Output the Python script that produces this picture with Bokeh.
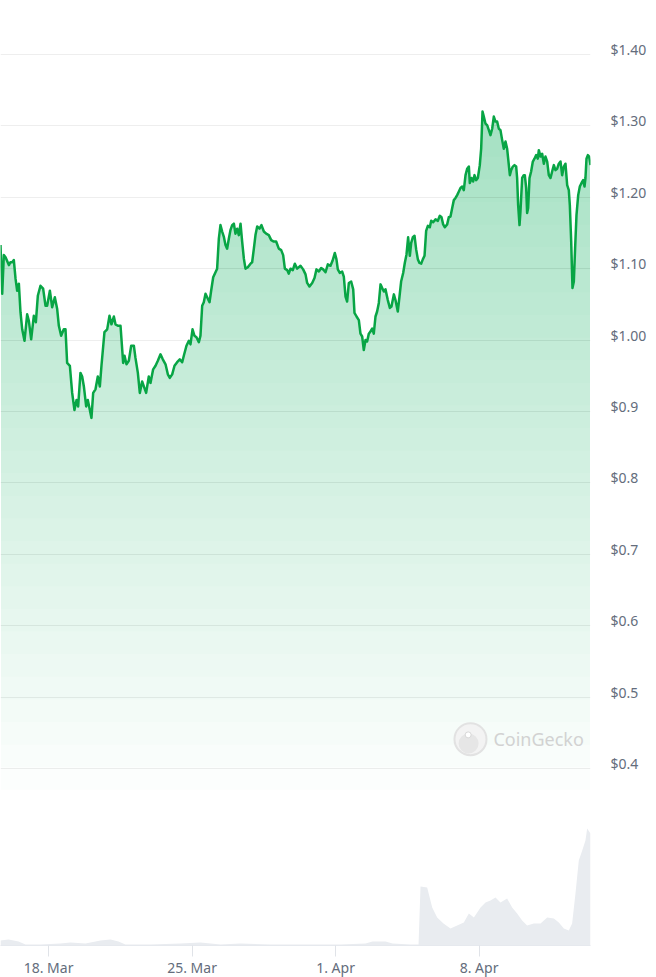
import numpy as np
import pandas as pd
from bokeh.plotting import figure
from bokeh.models import (Range1d, LinearAxis, FixedTicker, Grid, Label,
                          CustomJSTickFormatter, ColumnDataSource)
from bokeh.embed import file_html
from bokeh.resources import INLINE

# ---------------- data ----------------
START = "2024-03-15 15:45"          # left edge of the chart
END_HOURS = 690.7                    # right edge, hours after START

# price: hours after START, USD
price_hours = [
    0.0, 2.0, 3.9, 5.9, 9.8, 11.7, 13.7, 15.6, 17.6, 19.5,
    21.5, 23.4, 25.4, 28.1, 31.2, 33.2, 35.9, 39.0, 41.4, 43.7,
    46.8, 49.9, 52.7, 54.6, 57.8, 60.5, 63.6, 66.3, 68.3, 71.0,
    74.1, 76.1, 78.0, 81.2, 83.9, 86.6, 89.0, 90.9, 93.6, 95.6,
    97.6, 100.3, 102.2, 104.6, 106.5, 108.5, 111.2, 113.9, 116.3, 118.2,
    121.7, 124.9, 127.6, 129.9, 132.7, 134.6, 137.4, 140.5, 143.6, 145.2,
    147.5, 150.2, 153.0, 156.1, 158.0, 160.8, 163.1, 165.8, 167.8, 170.5,
    173.6,
    175.6, 178.7, 181.5, 184.2, 187.3, 190.0, 193.2, 195.9, 198.2, 201.0,
    203.7, 206.8, 209.9, 212.7, 214.6, 217.7, 220.5, 222.4, 224.8, 227.1,
    229.4, 232.2, 234.1, 236.1, 238.0, 240.0, 241.9, 244.7, 246.6, 249.0,
    251.7, 253.6, 255.6, 257.5, 259.5, 261.4, 263.4, 265.3, 267.3, 269.2,
    271.2, 273.2, 275.1, 277.1, 279.0, 281.0, 282.9, 284.9, 286.8, 289.5,
    292.7, 294.6, 296.6, 298.5, 300.5, 303.2, 305.5, 308.3, 311.0, 314.1,
    316.9, 320.0, 322.7, 325.8, 328.6, 330.9, 332.9, 335.6, 337.5, 339.5,
    342.2, 344.6, 347.3,
    351.2, 354.3, 357.1, 359.0, 361.7, 364.9, 367.6, 369.9, 372.7, 375.4,
    377.7, 380.5, 383.2, 386.3, 388.7, 391.4, 393.3, 394.9, 397.2, 400.0,
    401.9, 403.9, 405.8, 407.8, 410.5, 412.9, 414.4, 416.8, 419.5, 421.4,
    423.4, 425.3, 427.3, 429.2, 431.2, 433.1, 435.1, 437.0, 439.0, 440.9,
    442.9, 444.9, 446.8, 448.8, 450.7, 453.4, 455.8, 457.7, 460.5, 462.4,
    465.1, 467.1, 469.0, 471.4, 473.3, 475.3, 477.2, 479.2, 480.8, 482.7,
    484.7, 486.6, 488.6, 490.5, 492.5, 494.4, 496.4, 498.3, 500.3, 502.6,
    504.2, 506.5, 509.3, 512.0, 514.3, 516.3, 518.2, 520.2, 522.9, 524.8,
    526.8, 528.8, 530.7, 532.7, 534.6, 536.6, 538.5, 540.5, 542.4, 544.4,
    546.3, 548.3, 549.4, 551.4, 553.3, 554.9, 556.8, 558.8, 561.1, 562.7,
    564.3, 565.8, 567.8, 569.7, 571.7, 573.6, 575.6, 577.5, 579.5, 581.4,
    583.4, 585.3, 587.3, 589.2, 591.2, 593.1, 595.1, 596.3, 597.8, 599.8,
    601.7, 603.7, 604.8, 606.0, 607.6, 608.7, 610.7, 612.6, 613.8, 615.4,
    616.5, 617.7, 619.3, 621.2, 623.2, 625.1, 627.1, 629.0, 630.2, 632.2,
    634.1, 636.1, 638.0, 640.0, 641.9, 643.9, 645.8, 647.8, 649.7, 651.7,
    653.6, 655.6, 657.5, 659.5, 661.4, 663.4, 665.3, 666.5, 668.1, 669.6,
    671.2, 672.7, 674.3, 676.3, 678.2, 680.2, 682.1, 683.7, 684.8, 686.0,
    687.6, 689.1, 690.7,
]
price_usd = [
    1.133, 1.065, 1.119, 1.116, 1.105, 1.109, 1.109, 1.112, 1.086, 1.069,
    1.079, 1.039, 1.015, 0.999, 1.036, 1.027, 1.001, 1.034, 1.025, 1.062,
    1.076, 1.072, 1.048, 1.048, 1.069, 1.046, 1.060, 1.044, 1.020, 1.006,
    1.015, 1.015, 0.968, 0.964, 0.926, 0.902, 0.916, 0.907, 0.954, 0.949,
    0.935, 0.907, 0.916, 0.902, 0.891, 0.926, 0.931, 0.949, 0.935, 0.964,
    1.011, 1.015, 1.034, 1.022, 1.033, 1.022, 1.020, 1.020, 0.968, 0.978,
    0.966, 0.971, 0.992, 0.992, 0.975, 0.954, 0.926, 0.942, 0.935, 0.926,
    0.949,
    0.940, 0.959, 0.964, 0.971, 0.980, 0.973, 0.966, 0.952, 0.947, 0.952,
    0.964, 0.969, 0.973, 0.969, 0.978, 0.992, 0.999, 0.994, 1.015, 1.006,
    1.004, 0.997, 1.006, 1.048, 1.053, 1.065, 1.060, 1.053, 1.069, 1.088,
    1.095, 1.100, 1.142, 1.161, 1.152, 1.145, 1.133, 1.128, 1.142, 1.154,
    1.161, 1.163, 1.149, 1.156, 1.147, 1.163, 1.138, 1.114, 1.100, 1.102,
    1.107, 1.109, 1.128, 1.147, 1.159, 1.156, 1.161, 1.152, 1.149, 1.147,
    1.140, 1.138, 1.138, 1.128, 1.126, 1.119, 1.100, 1.098, 1.093, 1.100,
    1.098, 1.107, 1.100,
    1.104, 1.099, 1.092, 1.080, 1.075, 1.080, 1.087, 1.099, 1.096, 1.101,
    1.099, 1.095, 1.106, 1.104, 1.111, 1.122, 1.113, 1.099, 1.094, 1.096,
    1.089, 1.061, 1.054, 1.080, 1.082, 1.071, 1.038, 1.033, 1.028, 1.009,
    1.005, 0.986, 1.000, 0.998, 1.009, 1.012, 1.016, 1.009, 1.033, 1.040,
    1.052, 1.078, 1.073, 1.068, 1.071, 1.056, 1.045, 1.047, 1.064, 1.056,
    1.040, 1.061, 1.082, 1.094, 1.108, 1.120, 1.144, 1.118, 1.136, 1.144,
    1.146, 1.127, 1.113, 1.108, 1.107, 1.113, 1.118, 1.153, 1.160, 1.158,
    1.167, 1.165, 1.169, 1.167, 1.174, 1.172, 1.162, 1.158, 1.162, 1.172,
    1.173, 1.185, 1.196, 1.199, 1.203, 1.208, 1.213, 1.215, 1.210, 1.231,
    1.240, 1.243, 1.220, 1.227, 1.222, 1.231, 1.224, 1.227, 1.245, 1.268,
    1.320, 1.313, 1.303, 1.301, 1.294, 1.287, 1.296, 1.313, 1.306, 1.306,
    1.296, 1.294, 1.280, 1.268, 1.278, 1.268, 1.245, 1.231, 1.238, 1.243,
    1.245, 1.243, 1.227, 1.189, 1.161, 1.180, 1.227, 1.231, 1.231, 1.213,
    1.178, 1.185, 1.227, 1.236, 1.250, 1.254, 1.259, 1.254, 1.266, 1.257,
    1.261, 1.247, 1.257, 1.250, 1.231, 1.227, 1.236, 1.245, 1.238, 1.240,
    1.247, 1.250, 1.231, 1.243, 1.247, 1.217, 1.210, 1.189, 1.138, 1.073,
    1.082, 1.129, 1.175, 1.203, 1.215, 1.220, 1.224, 1.215, 1.227, 1.254,
    1.259, 1.257, 1.245,
]

# volume: hours after START, millions USD (relative)
volume_hours = [
    0.0, 9.4, 21.1, 29.3, 46.8, 70.2, 81.9, 99.5, 117.1, 128.8,
    138.1, 146.3, 175.6, 210.7, 234.1, 257.6, 281.0, 316.1, 351.2, 398.0,
    427.3, 435.5, 450.7, 458.9, 480.0, 489.4, 491.7, 499.5, 505.4, 511.2,
    518.6, 526.8, 534.6, 542.4, 548.3, 554.2, 562.0, 567.8, 573.6, 579.5,
    585.3, 593.1, 599.0, 604.8, 610.7, 616.5, 624.3, 632.2, 640.0, 647.8,
    653.6, 659.5, 665.3, 669.2, 673.1, 677.0, 681.0, 684.8, 686.8, 690.7,
]
volume_musd = [
    0.5, 0.6, 0.4, 0.1, 0.1, 0.2, 0.3, 0.2, 0.5, 0.6,
    0.4, 0.1, 0.1, 0.2, 0.3, 0.1, 0.2, 0.1, 0.1, 0.1,
    0.2, 0.4, 0.4, 0.2, 0.1, 0.1, 5.9, 5.8, 3.8, 2.8,
    2.2, 1.7, 2.0, 2.3, 3.2, 2.8, 3.8, 4.3, 4.5, 4.8,
    4.3, 4.7, 3.8, 3.2, 2.5, 2.0, 2.2, 2.2, 2.8, 2.7,
    2.3, 1.7, 1.5, 2.2, 5.2, 8.5, 9.5, 10.5, 11.7, 11.2,
]

y_ticks = [0.4, 0.5, 0.6, 0.7, 0.8, 0.9, 1.0, 1.1, 1.2, 1.3, 1.4]
x_tick_dates = ["2024-03-18", "2024-03-25", "2024-04-01", "2024-04-08"]

assert len(price_hours) == len(price_usd)
assert len(volume_hours) == len(volume_musd)

# ---------------- styling ----------------
GREEN = "#08a545"
LABEL_COLOR = "#646d7c"
FONT = "Noto Sans"

t0 = pd.Timestamp(START)
px_t = (t0 + pd.to_timedelta(np.array(price_hours), unit="h")).values
pv = np.array(price_usd)
vx_t = (t0 + pd.to_timedelta(np.array(volume_hours), unit="h")).values
vv = np.array(volume_musd)

def ms(ts):
    return pd.Timestamp(ts).value / 1e6

x_start = t0.to_pydatetime()
x_end = (t0 + pd.Timedelta(hours=END_HOURS)).to_pydatetime()

Y0, Y1 = 0.152, 1.4756
p = figure(frame_width=590, frame_height=945, x_axis_type="datetime",
           y_axis_location=None, toolbar_location=None, output_backend="svg",
           x_range=Range1d(x_start, x_end), y_range=Range1d(Y0, Y1),
           min_border=0, min_border_right=8, outline_line_color=None,
           background_fill_color="white", border_fill_color="white")

p.extra_y_ranges = {
    "lab": Range1d(Y0 - 0.007, Y1 - 0.007),
    "vol": Range1d(0, 94.5),
}

p.xgrid.visible = False
for g in p.ygrid:
    g.visible = False
grid = Grid(dimension=1, ticker=FixedTicker(ticks=y_ticks),
            grid_line_color="#eeeeee", grid_line_width=1)
p.add_layout(grid)

# volume area
vsrc = ColumnDataSource(dict(t=vx_t, v=vv, z=np.zeros_like(vv)))
p.varea(x="t", y1="z", y2="v", source=vsrc, y_range_name="vol",
        fill_color="#e9ecf0", fill_alpha=1.0)

# gradient fill under the price line (stacked translucent layers)
P_LOW, P_HIGH, N = 0.37, 1.32, 30
for k in range(N):
    a = P_LOW + (P_HIGH - P_LOW) * k / N
    p.varea(x=px_t, y1=np.minimum(pv, a), y2=pv,
            fill_color=GREEN, fill_alpha=0.0105)

p.line(x=px_t, y=pv, line_color=GREEN, line_width=2.5, line_join="round")

# watermark
wm_y = 0.441
p.scatter(x=[ms(t0 + pd.Timedelta(hours=550.2))], y=[wm_y], size=32,
          fill_color="#f3f3f3", line_color="#e2e2e2", line_width=2)
p.scatter(x=[ms(t0 + pd.Timedelta(hours=548.0))], y=[wm_y - 0.006], size=20,
          fill_color="#e6e6e6", line_color=None)
p.scatter(x=[ms(t0 + pd.Timedelta(hours=547.5))], y=[wm_y + 0.006], size=6,
          fill_color="white", line_color="#d8d8d8")
p.add_layout(Label(x=ms(t0 + pd.Timedelta(hours=577.0)), y=wm_y,
                   text="CoinGecko", text_color="#d2d2d2",
                   text_font=FONT, text_font_size="18px",
                   text_baseline="middle"))

# right price axis
yaxis = LinearAxis(y_range_name="lab", ticker=FixedTicker(ticks=y_ticks),
                   formatter=CustomJSTickFormatter(code="""
                       return tick >= 0.995 ? '$' + tick.toFixed(2) : '$' + tick.toFixed(1);
                   """),
                   axis_line_color=None, major_tick_line_color=None,
                   minor_tick_line_color=None, major_label_standoff=14,
                   major_label_text_color=LABEL_COLOR,
                   major_label_text_font=FONT,
                   major_label_text_font_size="14px")
p.add_layout(yaxis, "right")

# bottom date axis
xa = p.xaxis[0]
xa.ticker = FixedTicker(ticks=[ms(d) for d in x_tick_dates])
xa.formatter = CustomJSTickFormatter(code="""
    const m = ['Jan','Feb','Mar','Apr','May','Jun','Jul','Aug','Sep','Oct','Nov','Dec'];
    const d = new Date(tick);
    return d.getUTCDate() + '. ' + m[d.getUTCMonth()];
""")
xa.axis_line_color = "#e6e9ee"
xa.major_tick_in = 0
xa.major_tick_out = 11
xa.major_tick_line_color = "#e0e3e8"
xa.minor_tick_line_color = None
xa.major_label_standoff = 1
xa.major_label_text_color = LABEL_COLOR
xa.major_label_text_font = FONT
xa.major_label_text_font_size = "14px"

open("out.html", "w").write(file_html(p, INLINE))
